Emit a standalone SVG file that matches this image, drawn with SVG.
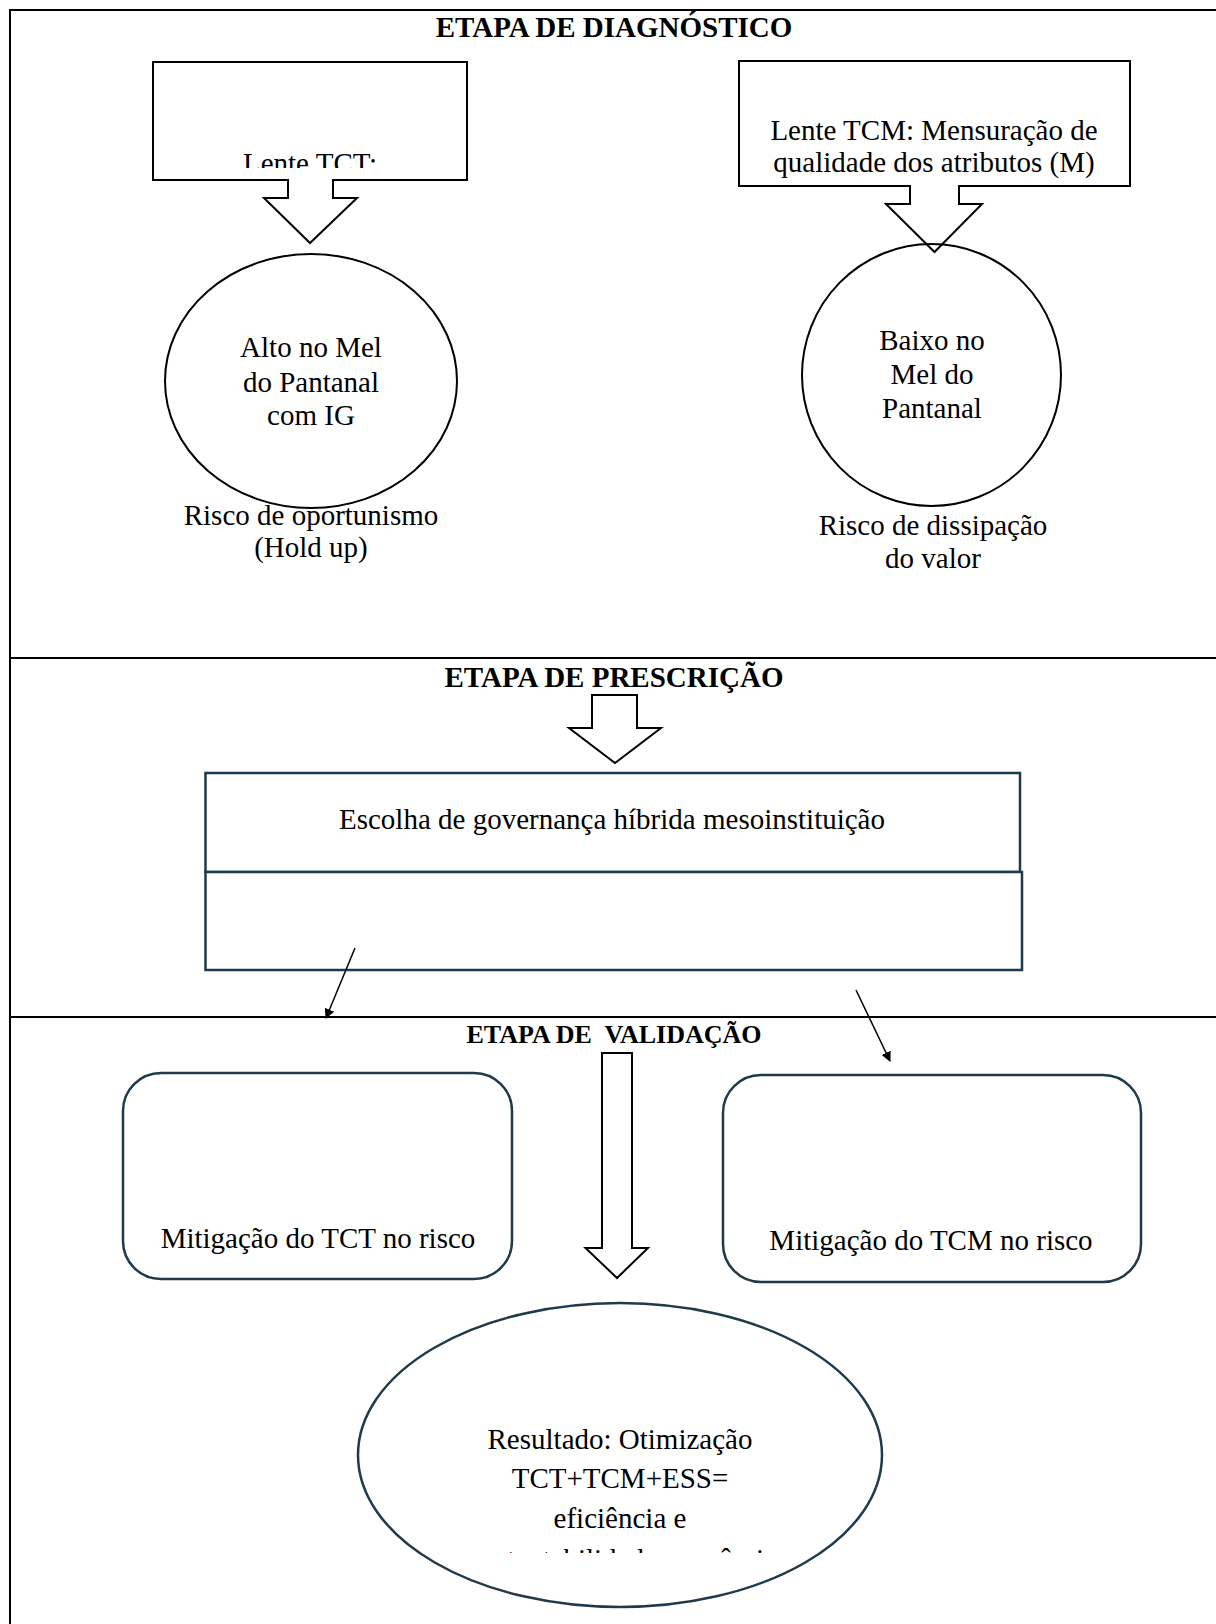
<svg xmlns="http://www.w3.org/2000/svg" width="1216" height="1624" viewBox="0 0 1216 1624">
<style>
text{font-family:"Liberation Serif","Times New Roman",serif;fill:#000;}
.t{font-size:29px;text-anchor:middle;}
.h{font-size:29px;font-weight:bold;text-anchor:middle;}
.h2{font-size:26px;font-weight:bold;text-anchor:middle;white-space:pre;}
.blk{fill:#fff;stroke:#000;stroke-width:2;}
.ring{fill:none;stroke:#000;stroke-width:2;}
.navy{fill:#fff;stroke:#1f3a4a;stroke-width:2.5;}
.navyn{fill:none;stroke:#1f3a4a;stroke-width:2.5;}
.con{stroke:#000;stroke-width:1.5;fill:none;}
</style>
<defs>
<marker id="ah" viewBox="0 0 10 10" refX="9" refY="5" markerWidth="10" markerHeight="10" markerUnits="userSpaceOnUse" orient="auto">
<path d="M0,0 L10,5 L0,10 Z" fill="#000"/>
</marker>
<clipPath id="clipTCT"><rect x="150" y="60" width="320" height="108"/></clipPath>
<clipPath id="clipRes"><rect x="350" y="1300" width="540" height="253"/></clipPath>
</defs>
<rect width="1216" height="1624" fill="#fff"/>
<g id="frame">
<rect x="10" y="10" width="1240" height="1660" fill="none" stroke="#000" stroke-width="2"/>
<line x1="10" y1="658" x2="1216" y2="658" stroke="#000" stroke-width="2"/>
<line x1="10" y1="1017" x2="1216" y2="1017" stroke="#000" stroke-width="2"/>
</g>
<g id="titles">
<text class="h" x="614" y="37">ETAPA DE DIAGNÓSTICO</text>
<text class="h" x="614" y="687">ETAPA DE PRESCRIÇÃO</text>
<text class="h2" x="614" y="1043" xml:space="preserve">ETAPA DE  VALIDAÇÃO</text>
</g>
<g id="lente-tct">
<path class="blk" d="M153,62 H467 V180 H333 V198 H357 L310,243 L264,198 H288 V180 H153 Z"/>
<text class="t" x="310" y="173" clip-path="url(#clipTCT)">Lente TCT:</text>
</g>
<g id="lente-tcm">
<path class="blk" d="M739,61 H1130 V186 H959 V204 H982 L934.5,252 L886,204 H910 V186 H739 Z"/>
<text class="t" x="934" y="140">Lente TCM: Mensuração de</text>
<text class="t" x="934" y="172">qualidade dos atributos (M)</text>
</g>
<g id="alto">
<ellipse class="ring" cx="311" cy="381" rx="146" ry="127"/>
<text class="t" x="311" y="357">Alto no Mel</text>
<text class="t" x="311" y="392">do Pantanal</text>
<text class="t" x="311" y="425">com IG</text>
</g>
<g id="risco-oportunismo">
<text class="t" x="311" y="525">Risco de oportunismo</text>
<text class="t" x="311" y="557">(Hold up)</text>
</g>
<g id="baixo">
<ellipse class="ring" cx="931.5" cy="375" rx="129.5" ry="131"/>
<text class="t" x="932" y="350">Baixo no</text>
<text class="t" x="932" y="384">Mel do</text>
<text class="t" x="932" y="418">Pantanal</text>
</g>
<g id="risco-dissipacao">
<text class="t" x="933" y="535">Risco de dissipação</text>
<text class="t" x="933" y="568">do valor</text>
</g>
<g id="seta-prescricao">
<path class="blk" d="M592,695 H637 V728 H661 L615,763 L569,728 H592 Z"/>
</g>
<g id="governanca">
<rect class="navy" x="205.5" y="773" width="814.5" height="99"/>
<rect class="navy" x="205.5" y="872" width="816.5" height="98"/>
<text class="t" x="612" y="829">Escolha de governança híbrida mesoinstituição</text>
</g>
<g id="connectors">
<line class="con" x1="355" y1="948" x2="326" y2="1018" marker-end="url(#ah)"/>
<line class="con" x1="856" y1="990" x2="890" y2="1061" marker-end="url(#ah)"/>
</g>
<g id="seta-validacao">
<path class="blk" d="M602,1053 H632 V1248 H648 L617,1278 L585.5,1248 H602 Z"/>
</g>
<g id="mitigacao-tct">
<rect class="navy" x="123" y="1073" width="389" height="206" rx="38" ry="38"/>
<text class="t" x="318" y="1248">Mitigação do TCT no risco</text>
</g>
<g id="mitigacao-tcm">
<rect class="navy" x="723" y="1075" width="418" height="207" rx="38" ry="38"/>
<text class="t" x="931" y="1250">Mitigação do TCM no risco</text>
</g>
<g id="resultado">
<ellipse class="navy" cx="620" cy="1455" rx="262" ry="152"/>
<text class="t" x="620" y="1449">Resultado: Otimização</text>
<text class="t" x="620" y="1488">TCT+TCM+ESS=</text>
<text class="t" x="620" y="1528">eficiência e</text>
<text x="470" y="1569" font-size="29" clip-path="url(#clipRes)">sustentabilidade econômica</text>
</g>
</svg>
